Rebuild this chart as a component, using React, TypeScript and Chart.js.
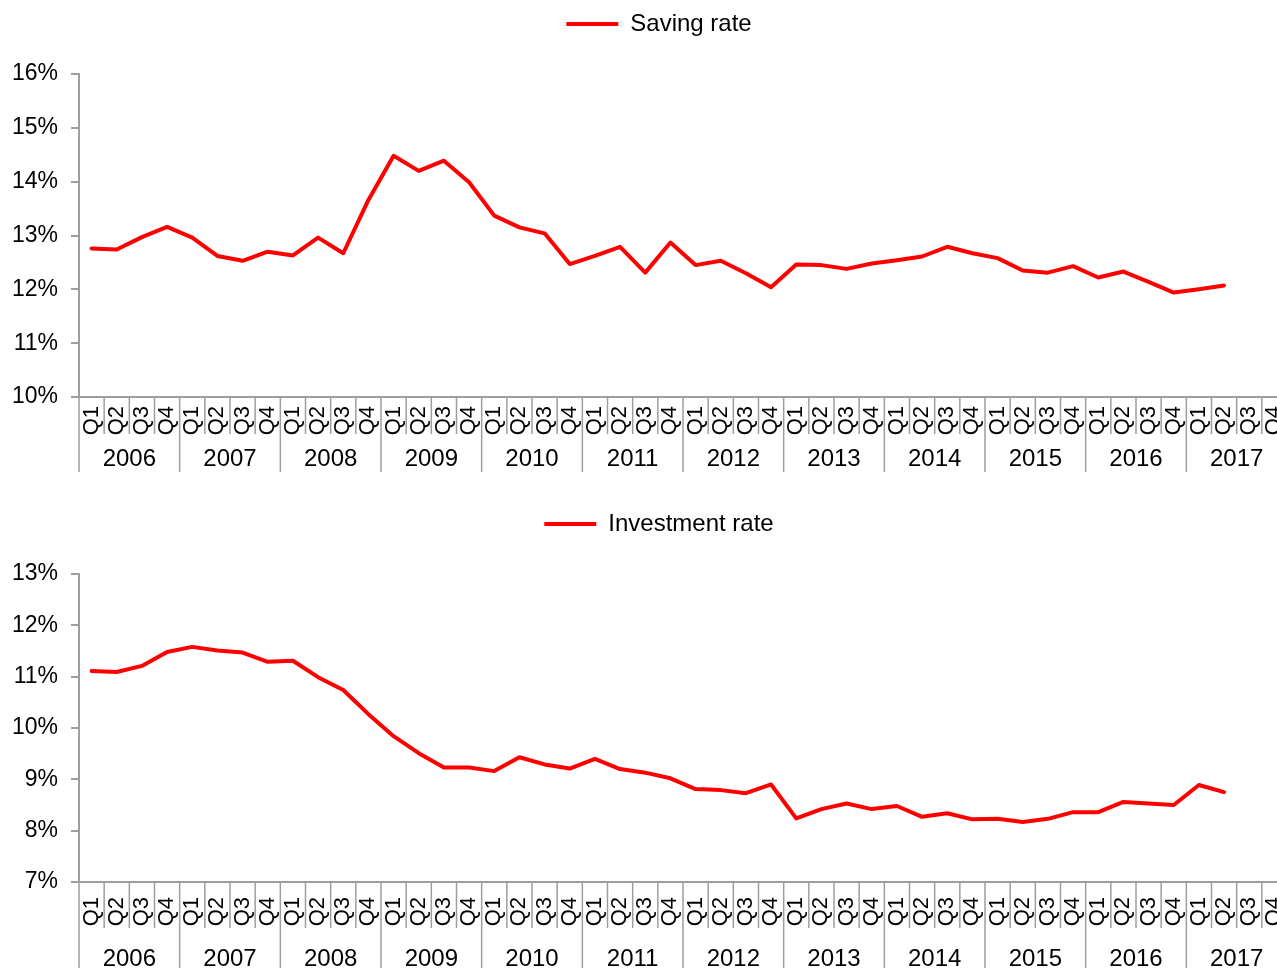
import React, { useEffect, useRef } from 'react';
import { Chart, registerables } from 'chart.js';

Chart.register(...registerables);

const years = ['2006', '2007', '2008', '2009', '2010', '2011', '2012', '2013', '2014', '2015', '2016', '2017'];
const quarters = ['Q1', 'Q2', 'Q3', 'Q4'];

const savingRate = [
  12.76, 12.74, 12.97, 13.16, 12.96, 12.62, 12.53, 12.7, 12.63, 12.96, 12.67, 13.66,
  14.48, 14.2, 14.39, 13.99, 13.37, 13.15, 13.04, 12.47, 12.62, 12.79, 12.31, 12.87,
  12.45, 12.53, 12.3, 12.04, 12.46, 12.45, 12.38, 12.48, 12.54, 12.61, 12.79, 12.67,
  12.58, 12.35, 12.31, 12.43, 12.22, 12.33, 12.14, 11.94, 12.0, 12.07,
];

const investmentRate = [
  11.11, 11.09, 11.21, 11.48, 11.58, 11.51, 11.47, 11.29, 11.31, 10.99, 10.74, 10.27,
  9.84, 9.51, 9.23, 9.23, 9.16, 9.43, 9.29, 9.21, 9.4, 9.2, 9.13, 9.02,
  8.81, 8.79, 8.73, 8.9, 8.24, 8.42, 8.53, 8.42, 8.48, 8.27, 8.34, 8.22,
  8.23, 8.17, 8.23, 8.36, 8.36, 8.56, 8.53, 8.5, 8.89, 8.75,
];

const savingRange = [10, 16];
const investmentRange = [7, 13];

const GRAY = '#9e9e9e';
const RED = '#ff0000';
const FONT = "'Liberation Sans', Arial, Helvetica, sans-serif";

type Panel = {
  label: string;
  data: number[];
  range: number[];
  xAxisHeight: number;
  labelPad: number;
  qLen: number;
  yLen: number;
  yearOffset: number;
};

const panels: Panel[] = [
  { label: 'Saving rate', data: savingRate, range: savingRange, xAxisHeight: 103, labelPad: 9, qLen: 37, yLen: 75, yearOffset: 62 },
  { label: 'Investment rate', data: investmentRate, range: investmentRange, xAxisHeight: 118, labelPad: 15, qLen: 46, yLen: 100, yearOffset: 77 },
];

function LineChart({ panel }: { panel: Panel }) {
  const ref = useRef<HTMLCanvasElement>(null);

  useEffect(() => {
    const canvas = ref.current;
    if (!canvas) return;
    const labels = years.flatMap(() => quarters);

    const legendHeight = {
      id: 'legendHeight',
      beforeLayout(chart: any) {
        const lg = chart.legend;
        if (lg && !lg.__patched) {
          const orig = lg.fit;
          lg.fit = function () {
            orig.call(this);
            this.height = 74;
          };
          lg.__patched = true;
        }
      },
    };

    const xDecor = {
      id: 'xDecor',
      afterDraw(chart: any) {
        const ctx = chart.ctx;
        const xs = chart.scales.x;
        const axisY = chart.chartArea.bottom;
        const n = labels.length;
        const w = xs.getPixelForValue(1) - xs.getPixelForValue(0);
        ctx.save();
        ctx.strokeStyle = GRAY;
        ctx.lineWidth = 1.5;
        for (let i = 0; i <= n; i++) {
          const x = xs.getPixelForValue(0) - w / 2 + i * w;
          const len = i % quarters.length === 0 ? panel.yLen : panel.qLen;
          ctx.beginPath();
          ctx.moveTo(x, axisY);
          ctx.lineTo(x, axisY + len);
          ctx.stroke();
        }
        ctx.fillStyle = '#000';
        ctx.font = `24px ${FONT}`;
        ctx.textAlign = 'center';
        ctx.textBaseline = 'middle';
        years.forEach((yr, j) => {
          const a = xs.getPixelForValue(j * 4);
          const b = xs.getPixelForValue(j * 4 + 3);
          ctx.fillText(yr, (a + b) / 2, axisY + panel.yearOffset);
        });
        ctx.restore();
      },
    };

    const chart = new Chart(canvas, {
      type: 'line',
      data: {
        labels,
        datasets: [
          {
            label: panel.label,
            data: panel.data,
            borderColor: RED,
            backgroundColor: RED,
            borderWidth: 4,
            pointRadius: 0,
            pointHoverRadius: 0,
            tension: 0,
            fill: false,
            borderJoinStyle: 'round',
            borderCapStyle: 'round',
            yAxisID: 'y',
          },
        ],
      },
      options: {
        responsive: false,
        animation: false,
        events: [],
        layout: { padding: 0 },
        font: { family: FONT },
        plugins: {
          tooltip: { enabled: false },
          legend: {
            display: true,
            position: 'top',
            labels: {
              boxWidth: 52,
              boxHeight: 4,
              padding: 12,
              color: '#000',
              font: { size: 24, family: FONT },
              generateLabels: (c: any) =>
                c.data.datasets.map((ds: any, i: number) => ({
                  text: ds.label,
                  fillStyle: RED,
                  strokeStyle: RED,
                  lineWidth: 0,
                  hidden: false,
                  datasetIndex: i,
                  fontColor: '#000',
                })),
            },
          },
        },
        scales: {
          x: {
            type: 'category',
            offset: true,
            grid: { display: false, drawTicks: false },
            border: { display: true, color: GRAY, width: 2 },
            ticks: {
              autoSkip: false,
              maxRotation: 90,
              minRotation: 90,
              padding: panel.labelPad,
              color: '#000',
              font: { size: 22, family: FONT },
            },
            afterFit: (s: any) => {
              s.height = panel.xAxisHeight;
            },
          },
          y: {
            type: 'linear',
            position: 'left',
            min: panel.range[0],
            max: panel.range[1],
            ticks: {
              stepSize: 1,
              padding: 13,
              color: '#000',
              font: { size: 23, family: FONT },
              callback: (v: any) => `${v}%`,
            },
            grid: { drawOnChartArea: false, drawTicks: true, tickLength: 8, color: GRAY, lineWidth: 2 },
            border: { display: true, color: GRAY, width: 2 },
            afterFit: (s: any) => {
              s.width = 79;
            },
          },
          yRight: {
            type: 'linear',
            axis: 'y',
            position: 'right',
            display: true,
            grid: { display: false, drawTicks: false },
            border: { display: false },
            ticks: { display: false },
            afterFit: (s: any) => {
              s.width = 31;
            },
          },
        },
      } as any,
      plugins: [legendHeight, xDecor],
    });
    return () => chart.destroy();
  }, [panel]);

  return <canvas ref={ref} width={1318} height={500} style={{ display: 'block' }} />;
}

export default function App() {
  return (
    <div
      style={{
        position: 'fixed',
        left: 0,
        top: 0,
        width: 1277,
        height: 968,
        overflow: 'hidden',
        background: '#fff',
      }}
    >
      {panels.map((p) => (
        <LineChart key={p.label} panel={p} />
      ))}
    </div>
  );
}
